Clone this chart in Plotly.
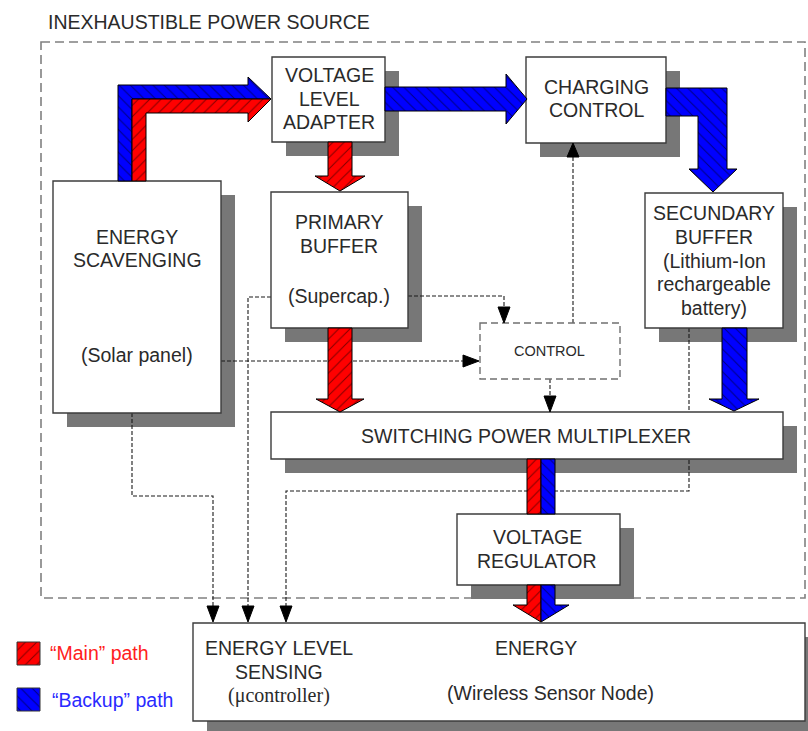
import plotly.graph_objects as go

W, H = 808, 731
FONT = "Liberation Sans, Arial, sans-serif"
TXT = "#2a2a2a"

# ---------------- data: blocks ----------------
block_names = ["adapter", "charging", "scavenging", "primary", "secundary",
               "multiplexer", "regulator", "energy"]
block_x0 = [272, 526, 53, 271, 645, 271, 457, 193]
block_y0 = [57, 57, 181, 192, 193, 412, 514, 623]
block_x1 = [385, 666, 221, 408, 783, 783, 620, 805]
block_y1 = [142, 143, 413, 328, 328, 459, 585, 721]
shadow_offset = 14

# ---------------- data: texts ----------------
text_str = ["VOLTAGE", "LEVEL", "ADAPTER",
            "CHARGING", "CONTROL",
            "ENERGY", "SCAVENGING", "(Solar panel)",
            "PRIMARY", "BUFFER", "(Supercap.)",
            "SECUNDARY", "BUFFER", "(Lithium-Ion", "rechargeable", "battery)",
            "SWITCHING POWER MULTIPLEXER",
            "VOLTAGE", "REGULATOR",
            "ENERGY LEVEL", "SENSING",
            "ENERGY", "(Wireless Sensor Node)",
            "CONTROL"]
text_x = [329, 329, 329,
          596, 596,
          137, 137, 137,
          339, 339, 339,
          714, 714, 714, 714, 714,
          526,
          537, 537,
          279, 279,
          536, 550,
          549]
text_y = [75, 99, 122,
          87, 110,
          237, 260, 355,
          222, 246, 296,
          213, 237, 261, 284, 308,
          436,
          537, 561,
          648, 672,
          648, 693,
          351]
text_size = [19.5] * 23 + [14.5]

# ---------------- data: hatched power arrows ----------------
arrow_color = ["blue", "red", "red", "blue", "blue", "red", "blue",
               "red", "red", "blue", "blue"]
arrow_xs = [
    [118, 118, 248, 248, 271, 132, 132],
    [132, 132, 271, 248, 248, 146, 146],
    [328, 352, 352, 365, 340, 315, 328],
    [385, 506, 506, 527, 506, 506, 385],
    [666, 727, 727, 737, 713, 689, 698, 698, 666],
    [328, 352, 352, 364, 340, 316, 328],
    [722, 747, 747, 759, 734, 709, 722],
    [527, 541, 541, 527],
    [527, 541, 541, 513, 527],
    [541, 555, 555, 541],
    [541, 555, 555, 569, 541],
]
arrow_ys = [
    [181, 85, 85, 77, 99, 99, 181],
    [181, 99, 99, 122, 113, 113, 181],
    [142, 142, 176, 176, 191, 176, 176],
    [87, 87, 74, 99, 124, 111, 111],
    [88, 88, 169, 169, 192, 169, 169, 116, 116],
    [328, 328, 399, 399, 412, 399, 399],
    [328, 328, 399, 399, 411, 399, 399],
    [459, 459, 514, 514],
    [585, 585, 622, 605, 605],
    [459, 459, 514, 514],
    [585, 585, 605, 605, 622],
]

# ---------------- data: dashed control connectors ----------------
conn_xs = [
    [221, 468],
    [271, 248, 248],
    [408, 504, 504],
    [573, 573],
    [550, 550],
    [132, 132, 213, 213],
    [689, 689, 286, 286],
]
conn_ys = [
    [361, 361],
    [297, 297, 607],
    [296, 296, 311],
    [323, 156],
    [379, 399],
    [413, 496, 496, 607],
    [328, 491, 491, 607],
]
tip_x = [479, 248, 504, 573, 550, 213, 286]
tip_y = [361, 622, 323, 143, 412, 622, 622]
tip_dir = ["right", "down", "down", "up", "down", "down", "down"]

legend_labels = ["\u201cMain\u201d path", "\u201cBackup\u201d path"]
legend_colors = ["red", "blue"]

fig = go.Figure()
shapes = []

# outer dashed frame
shapes.append(dict(type="rect", x0=41, y0=42, x1=805, y1=598, layer="below",
                   line=dict(color="#808080", width=1.6, dash="9px,5px"),
                   fillcolor="rgba(0,0,0,0)"))

# shadows
for i in range(len(block_names)):
    shapes.append(dict(type="rect", layer="below",
                       x0=block_x0[i] + shadow_offset, y0=block_y0[i] + shadow_offset,
                       x1=block_x1[i] + shadow_offset, y1=block_y1[i] + shadow_offset,
                       line=dict(width=0), fillcolor="#777777"))

# dashed connectors (under boxes)
for xs, ys in zip(conn_xs, conn_ys):
    path = "M " + " L ".join(f"{x},{y}" for x, y in zip(xs, ys))
    shapes.append(dict(type="path", path=path, layer="below",
                       line=dict(color="#1a1a1a", width=1.1, dash="4px,2px")))

# boxes
for i in range(len(block_names)):
    shapes.append(dict(type="rect", layer="below",
                       x0=block_x0[i], y0=block_y0[i], x1=block_x1[i], y1=block_y1[i],
                       line=dict(color="#3c3c3c", width=1.4), fillcolor="white"))

# control dashed box
shapes.append(dict(type="rect", layer="below", x0=480, y0=323, x1=620, y1=379,
                   line=dict(color="#707070", width=1.4, dash="7px,4px"),
                   fillcolor="white"))

# arrow tips
for x, y, d in zip(tip_x, tip_y, tip_dir):
    if d == "down":
        p = f"M {x},{y} L {x-6},{y-16} L {x+6},{y-16} Z"
    elif d == "up":
        p = f"M {x},{y} L {x-6},{y+14} L {x+6},{y+14} Z"
    else:
        p = f"M {x},{y} L {x-16},{y-6} L {x-16},{y+6} Z"
    shapes.append(dict(type="path", path=p, fillcolor="black",
                       line=dict(color="black", width=1)))

# hatched power arrows
for c, xs, ys in zip(arrow_color, arrow_xs, arrow_ys):
    fig.add_trace(go.Scatter(
        x=xs + [xs[0]], y=ys + [ys[0]], mode="lines", fill="toself",
        fillcolor="#ff0000" if c == "red" else "#0000ff",
        fillpattern=dict(shape="/" if c == "red" else "\\", fgcolor="black",
                         bgcolor="#ff0000" if c == "red" else "#0000ff",
                         size=8, solidity=0.12),
        line=dict(color="black", width=1), hoverinfo="skip", showlegend=False))

# legend swatches
leg_y = [[642, 642, 665, 665], [688, 688, 711, 711]]
for k, c in enumerate(legend_colors):
    fig.add_trace(go.Scatter(
        x=[17, 40, 40, 17, 17], y=leg_y[k] + [leg_y[k][0]], mode="lines", fill="toself",
        fillcolor="#ff0000" if c == "red" else "#0000ff",
        fillpattern=dict(shape="/" if c == "red" else "\\", fgcolor="black",
                         bgcolor="#ff0000" if c == "red" else "#0000ff",
                         size=8, solidity=0.12),
        line=dict(color="#333", width=1), hoverinfo="skip", showlegend=False))

annotations = []
for s, x, y, sz in zip(text_str, text_x, text_y, text_size):
    annotations.append(dict(x=x, y=y, text=s, showarrow=False, xanchor="center",
                            yanchor="middle", font=dict(family=FONT, size=sz, color=TXT)))
annotations.append(dict(x=279, y=695, text="(\u03bccontroller)", showarrow=False,
                        xanchor="center", yanchor="middle",
                        font=dict(family="Liberation Serif, Times New Roman, serif",
                                  size=20, color=TXT)))
annotations.append(dict(x=46, y=22, text="INEXHAUSTIBLE POWER SOURCE", showarrow=False,
                        xanchor="left", yanchor="middle",
                        font=dict(family=FONT, size=19.5, color=TXT)))
annotations.append(dict(x=48, y=653, text=legend_labels[0], showarrow=False,
                        xanchor="left", yanchor="middle",
                        font=dict(family=FONT, size=19.5, color="#ff2020")))
annotations.append(dict(x=50, y=700, text=legend_labels[1], showarrow=False,
                        xanchor="left", yanchor="middle",
                        font=dict(family=FONT, size=19.5, color="#2a2aff")))

fig.update_layout(
    width=W, height=H, margin=dict(l=0, r=0, t=0, b=0),
    paper_bgcolor="white", plot_bgcolor="white",
    xaxis=dict(range=[0, W], visible=False, fixedrange=True),
    yaxis=dict(range=[H, 0], visible=False, fixedrange=True),
    shapes=shapes, annotations=annotations, showlegend=False)

# remove the default page margin so the figure fills the window exactly
fig.write_html("out.html", config={"displayModeBar": False},
               post_script="document.body.style.margin='0px';"
                           "document.body.style.overflow='hidden';")
